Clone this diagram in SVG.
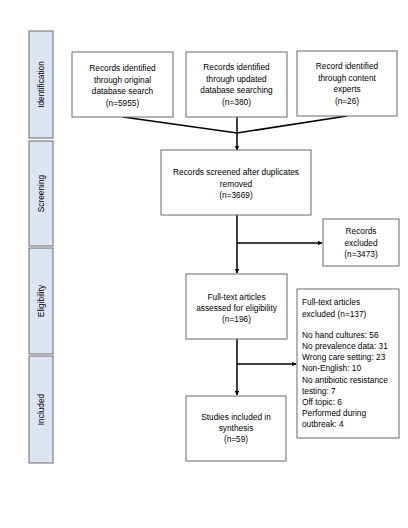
<svg xmlns="http://www.w3.org/2000/svg" width="408" height="528" viewBox="0 0 408 528">
<defs>
<style>
.bar{fill:#dce6f2;stroke:#6b6b6b;stroke-width:1}
.box{fill:#ffffff;stroke:#6b6b6b;stroke-width:1}
text{font-family:"Liberation Sans",Arial,sans-serif;font-size:8.3px;fill:#000}
.c{text-anchor:middle}
.lbl{text-anchor:middle;font-size:8.3px}
.ln{fill:none;stroke:#000;stroke-width:1.5}
</style>
<marker id="ah" viewBox="0 0 10 10" refX="9" refY="5" markerWidth="4.5" markerHeight="4.5" orient="auto" markerUnits="userSpaceOnUse">
<path d="M0,0 L10,5 L0,10 z" fill="#000"/>
</marker>
</defs>
<rect width="408" height="528" fill="#fff"/>
<g id="stage-identification">
<rect class="bar" x="29" y="31" width="24" height="107"/>
<text class="lbl" transform="translate(44,84.5) rotate(-90)">Identification</text>
</g>
<g id="stage-screening">
<rect class="bar" x="29" y="141" width="24" height="105"/>
<text class="lbl" transform="translate(44,193.5) rotate(-90)">Screening</text>
</g>
<g id="stage-eligibility">
<rect class="bar" x="29" y="248" width="24" height="106"/>
<text class="lbl" transform="translate(44,301) rotate(-90)">Eligibility</text>
</g>
<g id="stage-included">
<rect class="bar" x="29" y="356" width="24" height="107"/>
<text class="lbl" transform="translate(44,409.5) rotate(-90)">Included</text>
</g>
<g id="connectors">
<path class="ln" d="M123,117 L237,133 L347,116"/>
<path class="ln" d="M237,117 L237,150" marker-end="url(#ah)"/>
<path class="ln" d="M237,215 L237,273" marker-end="url(#ah)"/>
<path class="ln" d="M237,243 L322,243" marker-end="url(#ah)"/>
<path class="ln" d="M237,339 L237,395" marker-end="url(#ah)"/>
<path class="ln" d="M237,364 L296,364" marker-end="url(#ah)"/>
</g>
<g id="n-original">
<rect class="box" x="72" y="52" width="101" height="65"/>
<text class="c" x="122.5" y="71">Records identified</text>
<text class="c" x="122.5" y="82.5">through original</text>
<text class="c" x="122.5" y="94">database search</text>
<text class="c" x="122.5" y="105.5">(n=5955)</text>
</g>
<g id="n-updated">
<rect class="box" x="186" y="52" width="101" height="65"/>
<text class="c" x="236.5" y="70">Records identified</text>
<text class="c" x="236.5" y="81.5">through updated</text>
<text class="c" x="236.5" y="93">database searching</text>
<text class="c" x="236.5" y="104.5">(n=380)</text>
</g>
<g id="n-experts">
<rect class="box" x="297" y="51" width="100" height="65"/>
<text class="c" x="347" y="69">Record identified</text>
<text class="c" x="347" y="80.5">through content</text>
<text class="c" x="347" y="92">experts</text>
<text class="c" x="347" y="103.5">(n=26)</text>
</g>
<g id="n-screened">
<rect class="box" x="161" y="150" width="150" height="65"/>
<text class="c" x="236" y="175">Records screened after duplicates</text>
<text class="c" x="236" y="186.5">removed</text>
<text class="c" x="236" y="198">(n=3669)</text>
</g>
<g id="n-excluded">
<rect class="box" x="323" y="219" width="76" height="47"/>
<text class="c" x="361" y="234">Records</text>
<text class="c" x="361" y="245.5">excluded</text>
<text class="c" x="361" y="257">(n=3473)</text>
</g>
<g id="n-fulltext">
<rect class="box" x="186" y="274" width="101" height="65"/>
<text class="c" x="236.5" y="300">Full-text articles</text>
<text class="c" x="236.5" y="311">assessed for eligibility</text>
<text class="c" x="236.5" y="322">(n=196)</text>
</g>
<g id="n-ft-excluded">
<rect class="box" x="297" y="289" width="102" height="149"/>
<text x="302" y="305">Full-text articles</text>
<text x="302" y="317">excluded (n=137)</text>
<text x="302" y="338">No hand cultures: 56</text>
<text x="302" y="349">No prevalence data: 31</text>
<text x="302" y="360">Wrong care setting: 23</text>
<text x="302" y="371">Non-English: 10</text>
<text x="302" y="383">No antibiotic resistance</text>
<text x="302" y="394">testing: 7</text>
<text x="302" y="405">Off topic: 6</text>
<text x="302" y="416">Performed during</text>
<text x="302" y="427">outbreak: 4</text>
</g>
<g id="n-included">
<rect class="box" x="186" y="396" width="100" height="65"/>
<text class="c" x="236" y="420">Studies included in</text>
<text class="c" x="236" y="431">synthesis</text>
<text class="c" x="236" y="442">(n=59)</text>
</g>
</svg>
